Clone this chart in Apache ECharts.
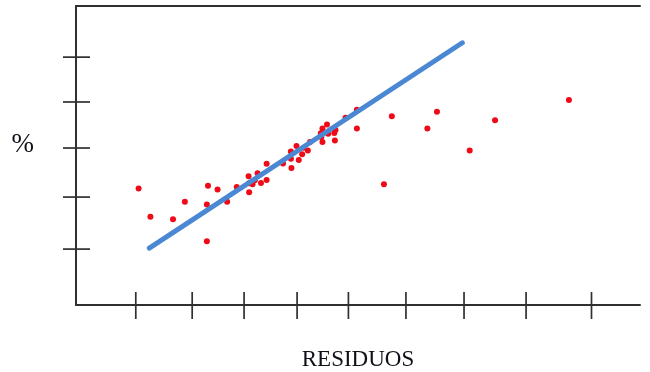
<!DOCTYPE html>
<html>
<head>
<meta charset="utf-8">
<title>Residuos</title>
<script src="https://cdn.jsdelivr.net/npm/echarts/dist/echarts.min.js"></script>
<style>
  html, body { margin: 0; padding: 0; background: #fff; }
  #myChart { width: 650px; height: 372px; }
</style>
</head>
<body>
<div id="myChart"></div>
<script>
// valores (escala 0-100 en ambos ejes)
const puntosX = [11.1, 13.2, 17.2, 19.3, 23.4, 23.2, 23.2, 25.1, 26.8, 28.5,
  30.6, 30.7, 30.7, 31.3, 31.7, 32.2, 32.8, 33.8, 33.8, 36.7,
  38.1, 38.1, 38.2, 39.1, 39.5, 40.1, 40.4, 41.1, 41.5, 43.7,
  44.5, 44.7, 43.5, 43.7, 43.4, 46.0, 45.8, 45.9, 47.8, 49.8,
  49.8, 56.0, 54.6, 62.3, 64.0, 69.8, 74.3, 87.4];
const puntosY = [39.0, 29.5, 28.7, 34.5, 39.9, 33.6, 21.3, 38.6, 34.5, 39.5,
  43.1, 40.7, 37.7, 40.4, 41.7, 44.1, 40.8, 47.2, 41.8, 47.3,
  51.3, 48.9, 45.8, 53.2, 48.5, 50.4, 52.6, 51.7, 54.5, 59.0,
  60.4, 57.3, 56.2, 54.5, 57.4, 58.5, 57.5, 55.0, 62.6, 65.3,
  59.0, 63.1, 40.4, 59.0, 64.6, 51.7, 61.8, 68.6];
// recta de ajuste
const rectaX = [13.0, 68.5];
const rectaY = [19.0, 87.7];
// marcas de los ejes
const ticksX = [10.6, 20.6, 29.8, 39.2, 48.3, 58.5, 68.8, 79.8, 91.4];
const ticksY = [18.7, 36.1, 52.5, 67.9, 82.9];

const chart = echarts.init(document.getElementById('myChart'));

const ejeColor = '#303030';
const fuente = '"Liberation Serif", "DejaVu Serif", serif';

function marcaX(params, api) {
  const p = api.coord([api.value(0), 0]);
  return {
    type: 'line',
    shape: { x1: p[0], y1: p[1] - 13, x2: p[0], y2: p[1] + 14 },
    style: { stroke: ejeColor, lineWidth: 1.7 }
  };
}
function marcaY(params, api) {
  const p = api.coord([0, api.value(1)]);
  return {
    type: 'line',
    shape: { x1: p[0] - 13, y1: p[1], x2: p[0] + 14, y2: p[1] },
    style: { stroke: ejeColor, lineWidth: 1.7 }
  };
}

const option = {
  animation: false,
  grid: { left: 76, right: 10, top: 6, bottom: 67, outerBoundsMode: 'none', containLabel: false },
  xAxis: [
    {
      type: 'value',
      min: 0,
      max: 100,
      name: 'RESIDUOS',
      nameLocation: 'middle',
      nameGap: 43,
      nameTextStyle: { fontFamily: fuente, fontSize: 23, color: '#10101a' },
      axisLine: { show: true, lineStyle: { color: ejeColor, width: 2 } },
      axisTick: { show: false },
      axisLabel: { show: false },
      splitLine: { show: false }
    },
    {
      // linea superior del recuadro
      type: 'value',
      position: 'top',
      min: 0,
      max: 100,
      axisLine: { show: true, onZero: false, lineStyle: { color: ejeColor, width: 2 } },
      axisTick: { show: false },
      axisLabel: { show: false },
      splitLine: { show: false }
    }
  ],
  yAxis: {
    type: 'value',
    min: 0,
    max: 100,
    name: '%',
    nameLocation: 'middle',
    nameRotate: 0,
    nameGap: 42,
    nameTextStyle: {
      fontFamily: fuente, fontSize: 27, color: '#10101a',
      verticalAlign: 'bottom', lineHeight: 22
    },
    axisLine: { show: true, lineStyle: { color: ejeColor, width: 2 } },
    axisTick: { show: false },
    axisLabel: { show: false },
    splitLine: { show: false }
  },
  series: [
    {
      type: 'custom',
      renderItem: marcaX,
      data: ticksX.map(v => [v, 0]),
      silent: true
    },
    {
      type: 'custom',
      renderItem: marcaY,
      data: ticksY.map(v => [0, v]),
      silent: true
    },
    {
      type: 'line',
      data: rectaX.map((x, i) => [x, rectaY[i]]),
      symbol: 'none',
      lineStyle: { color: '#4a88d4', width: 5, cap: 'round' },
      silent: true
    },
    {
      type: 'scatter',
      data: puntosX.map((x, i) => [x, puntosY[i]]),
      symbolSize: 6,
      itemStyle: { color: '#ee0a16', opacity: 1 }
    }
  ]
};
chart.setOption(option);
</script>
</body>
</html>
